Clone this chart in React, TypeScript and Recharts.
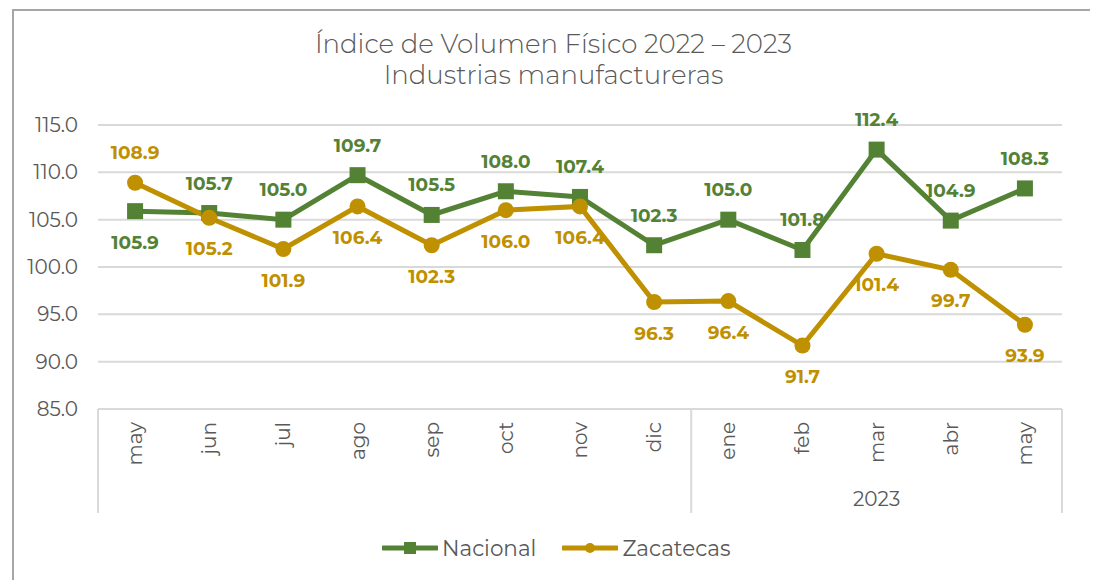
import React from "react";
import { LineChart, Line, XAxis, YAxis, CartesianGrid, LabelList } from "recharts";

const months = ["may", "jun", "jul", "ago", "sep", "oct", "nov", "dic", "ene", "feb", "mar", "abr", "may"];
const nacional = [105.9, 105.7, 105.0, 109.7, 105.5, 108.0, 107.4, 102.3, 105.0, 101.8, 112.4, 104.9, 108.3];
const zacatecas = [108.9, 105.2, 101.9, 106.4, 102.3, 106.0, 106.4, 96.3, 96.4, 91.7, 101.4, 99.7, 93.9];
const yTicks = [85, 90, 95, 100, 105, 110, 115];
const yearLabel = "2023";
const yearStartIndex = 8;

const data = months.map((m, i) => ({ key: `${m}-${i}`, month: m, nacional: nacional[i], zacatecas: zacatecas[i] }));

const GREEN = "#548235";
const GOLD = "#BF9000";
const TEXT = "#595959";
const GRID = "#D9D9D9";
const FONT = "Montserrat, 'Open Sans', sans-serif";

const CHART_W = 1090;
const CHART_H = 572;
const MARGIN = { top: 117, right: 36, bottom: 67, left: 0 };
const Y_W = 90;
const X_H = 104;
const plotW = CHART_W - MARGIN.left - MARGIN.right - Y_W;
const band = plotW / months.length;

const SquareDot = (props: any) => {
  const { cx, cy } = props;
  if (cx == null || cy == null) return null;
  return <rect x={cx - 8} y={cy - 8} width={16} height={16} fill={GREEN} />;
};
const CircleDot = (props: any) => {
  const { cx, cy } = props;
  if (cx == null || cy == null) return null;
  return <circle cx={cx} cy={cy} r={8} fill={GOLD} />;
};

const makeLabel = (series: number[], other: number[], color: string) => (props: any) => {
  const { x, y, index, value } = props;
  if (x == null || y == null) return null;
  const above = series[index] >= other[index];
  return (
    <text
      x={x}
      y={above ? y - 30 : y + 31}
      textAnchor="middle"
      dominantBaseline="central"
      fill={color}
      fontSize={18.5}
      fontWeight={700}
      fontFamily={FONT}
    >
      {Number(value).toFixed(1)}
    </text>
  );
};

const XTick = (props: any) => {
  const { x, y, index } = props;
  const half = band / 2;
  const lineTop = y - 8;
  const lineBottom = lineTop + X_H;
  return (
    <g>
      <g transform={`translate(${x},${y + 5}) rotate(-90)`}>
        <text textAnchor="end" dominantBaseline="central" fill={TEXT} fontSize={20} fontFamily={FONT}>
          {months[index]}
        </text>
      </g>
      {index === 0 && <line x1={x - half} x2={x - half} y1={lineTop} y2={lineBottom} stroke={GRID} strokeWidth={2} />}
      {index === yearStartIndex && (
        <line x1={x - half} x2={x - half} y1={lineTop} y2={lineBottom} stroke={GRID} strokeWidth={2} />
      )}
      {index === months.length - 1 && (
        <line x1={x + half} x2={x + half} y1={lineTop} y2={lineBottom} stroke={GRID} strokeWidth={2} />
      )}
      {index === Math.round((yearStartIndex + months.length - 1) / 2) && (
        <text x={x} y={lineTop + 90} textAnchor="middle" dominantBaseline="central" fill={TEXT} fontSize={20} fontFamily={FONT}>
          {yearLabel}
        </text>
      )}
    </g>
  );
};

const LegendItem = ({ color, label, shape }: { color: string; label: string; shape: "square" | "circle" }) => (
  <div style={{ display: "flex", alignItems: "center", marginRight: 26 }}>
    <svg width={56} height={16}>
      <line x1={1} x2={55} y1={8} y2={8} stroke={color} strokeWidth={5} strokeLinecap="round" />
      {shape === "square" ? <rect x={22} y={2} width={12} height={12} fill={color} /> : <circle cx={28} cy={8} r={5} fill={color} />}
    </svg>
    <span style={{ color: TEXT, fontSize: 21.5, fontFamily: FONT, marginLeft: 4 }}>{label}</span>
  </div>
);

export default function App() {
  return (
    <div style={{ position: "relative", width: CHART_W, height: CHART_H, overflow: "visible" }}>
      <div
        style={{
          position: "absolute",
          left: 4,
          top: 1,
          width: 1079,
          height: 620,
          border: "2px solid #A6A6A6",
          boxSizing: "content-box",
        }}
      />
      <div
        style={{
          position: "absolute",
          left: 4,
          top: 21,
          width: 1083,
          textAlign: "center",
          color: TEXT,
          fontFamily: FONT,
          fontWeight: 300,
          fontSize: 26,
          lineHeight: "31px",
        }}
      >
        <div>Índice de Volumen Físico 2022 – 2023</div>
        <div>Industrias manufactureras</div>
      </div>
      <div style={{ position: "absolute", top: 0, left: 0 }}>
        <LineChart width={CHART_W} height={CHART_H} data={data} margin={MARGIN}>
          <CartesianGrid vertical={false} stroke={GRID} strokeWidth={2} />
          <XAxis
            dataKey="key"
            scale="band"
            interval={0}
            tickLine={false}
            axisLine={{ stroke: GRID, strokeWidth: 2 }}
            height={X_H}
            tick={<XTick />}
          />
          <YAxis
            width={Y_W}
            domain={[85, 115]}
            ticks={yTicks}
            tickFormatter={(v: number) => v.toFixed(1)}
            tickLine={false}
            axisLine={false}
            tickMargin={14}
            tick={{ fill: TEXT, fontSize: 20, fontFamily: FONT }}
          />
          <Line
            dataKey="nacional"
            stroke={GREEN}
            strokeWidth={5}
            dot={<SquareDot />}
            activeDot={false}
            isAnimationActive={false}
          >
            <LabelList dataKey="nacional" content={makeLabel(nacional, zacatecas, GREEN)} />
          </Line>
          <Line
            dataKey="zacatecas"
            stroke={GOLD}
            strokeWidth={5}
            dot={<CircleDot />}
            activeDot={false}
            isAnimationActive={false}
          >
            <LabelList dataKey="zacatecas" content={makeLabel(zacatecas, nacional, GOLD)} />
          </Line>
        </LineChart>
      </div>
      <div
        style={{
          position: "absolute",
          top: 527,
          left: 374,
          display: "flex",
          alignItems: "center",
        }}
      >
        <LegendItem color={GREEN} label="Nacional" shape="square" />
        <LegendItem color={GOLD} label="Zacatecas" shape="circle" />
      </div>
    </div>
  );
}
